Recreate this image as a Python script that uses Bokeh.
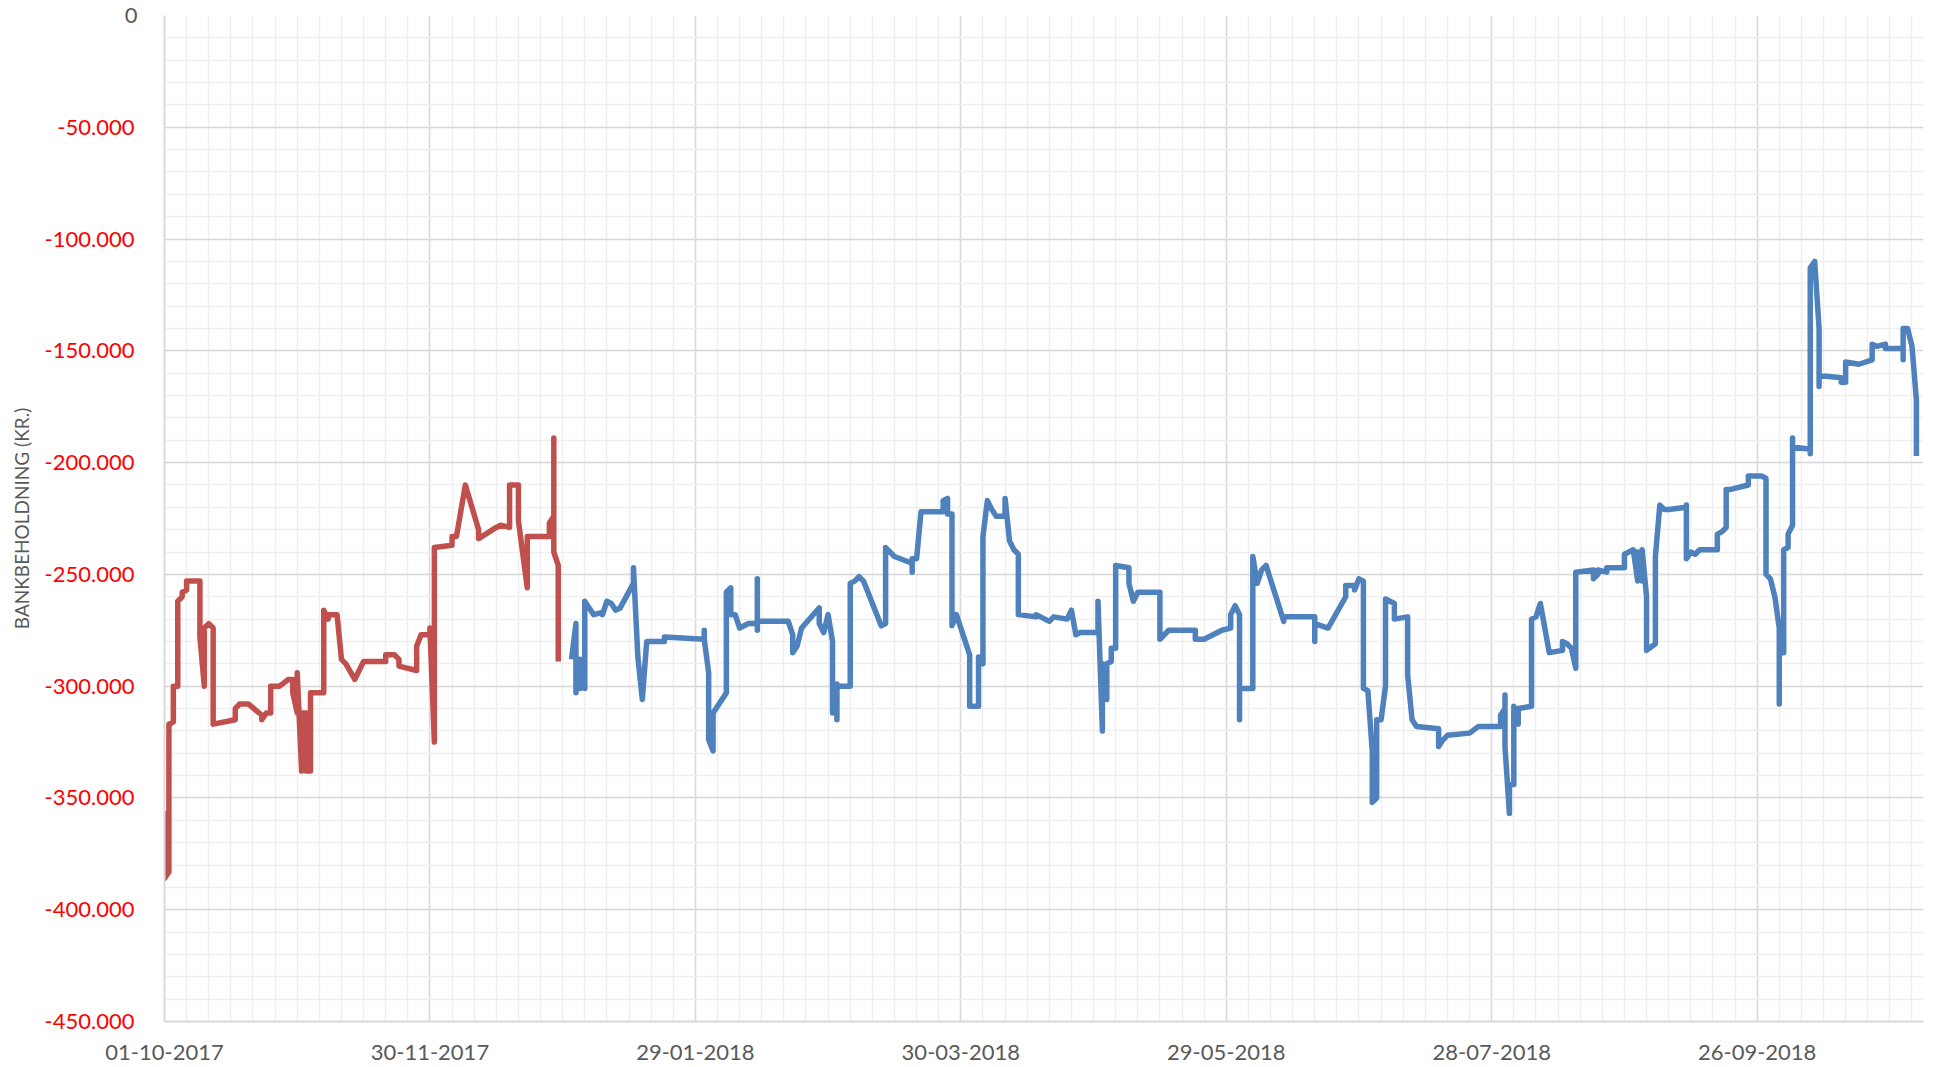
import pandas as pd
from bokeh.plotting import figure
from bokeh.models import FixedTicker, DatetimeTickFormatter, Range1d, LinearAxis
from bokeh.embed import file_html
from bokeh.resources import INLINE

# ---------------- data ----------------
start_date = "2017-10-01"

x_tick_labels = ["01-10-2017", "30-11-2017", "29-01-2018", "30-03-2018",
                 "29-05-2018", "28-07-2018", "26-09-2018"]
y_tick_values = [0, -50000, -100000, -150000, -200000, -250000,
                 -300000, -350000, -400000, -450000]
y_tick_labels = ["0", "-50.000", "-100.000", "-150.000", "-200.000", "-250.000",
                 "-300.000", "-350.000", "-400.000", "-450.000"]

# days after 01-10-2017, balance in thousand kr.
red_day = [0, 0, 1, 1, 2, 2, 3, 3, 4, 4,
           5, 5, 8, 8, 9, 9, 10, 11, 11, 16,
           16, 17, 19, 22, 22, 23, 24, 24, 26, 28,
           29, 29, 30, 30, 31, 31, 32, 32, 33, 33,
           33, 36, 36, 37, 37, 39, 40, 41, 43, 45,
           47, 50, 50, 52, 53, 53, 57, 57, 58, 60,
           60, 61, 61, 65, 65, 66, 68, 71, 71, 75,
           76, 78, 78, 80, 80, 82, 82, 87, 87, 88,
           88, 88, 89, 89]
red_val_k = [-356, -386, -383, -317, -316, -300, -300, -262, -260, -258,
             -257, -253, -253, -278, -300, -274, -272, -274, -317, -315,
             -310, -308, -308, -313, -315, -312, -312, -300, -300, -297,
             -297, -303, -312, -294, -338, -312, -312, -338, -338, -317,
             -303, -303, -266, -270, -268, -268, -288, -290, -297, -289,
             -289, -289, -286, -286, -288, -291, -293, -282, -277, -277,
             -274, -325, -238, -237, -233, -233, -210, -230, -234, -229,
             -228, -229, -210, -210, -226, -256, -233, -233, -227, -224,
             -189, -240, -246, -289]

blue_day = [92, 93, 93, 94, 94, 95, 95, 95, 96, 97,
            99, 99, 100, 101, 102, 103, 106, 106, 107, 108,
            109, 113, 113, 122, 122, 122, 123, 123, 124, 124,
            127, 127, 128, 128, 129, 130, 132, 134, 134, 134,
            134, 141, 142, 142, 143, 144, 148, 148, 149, 150,
            151, 151, 152, 152, 152, 155, 155, 156, 157, 158,
            162, 163, 163, 165, 169, 169, 169, 170, 171, 176,
            176, 177, 177, 178, 178, 179, 182, 182, 184, 184,
            185, 185, 186, 187, 188, 190, 190, 191, 192, 193,
            193, 197, 197, 200, 201, 204, 205, 206, 207, 211,
            211, 212, 212, 213, 213, 214, 214, 215, 215, 218,
            218, 219, 220, 225, 225, 227, 233, 233, 235, 239,
            241, 241, 242, 243, 243, 243, 246, 246, 247, 248,
            249, 253, 253, 260, 260, 260, 263, 267, 267, 269,
            269, 270, 271, 271, 272, 273, 273, 274, 274, 275,
            276, 276, 278, 278, 281, 281, 282, 283, 288, 288,
            289, 290, 295, 297, 302, 302, 303, 303, 303, 304,
            304, 305, 305, 306, 306, 309, 309, 310, 311, 313,
            316, 316, 317, 318, 319, 319, 323, 323, 324, 324,
            326, 326, 330, 330, 332, 333, 333, 334, 334, 335,
            335, 337, 337, 338, 339, 340, 344, 344, 344, 345,
            346, 347, 351, 351, 352, 353, 353, 354, 358, 358,
            359, 361, 362, 362, 363, 364, 365, 365, 365, 366,
            366, 367, 367, 368, 368, 368, 372, 372, 372, 373,
            374, 374, 374, 379, 379, 380, 380, 383, 386, 386,
            387, 389, 389, 393, 393, 393, 394, 395, 396, 396]
blue_val_k = [-288, -272, -303, -288, -301, -288, -301, -262, -265, -268,
              -267, -268, -262, -263, -266, -265, -254, -247, -287, -306,
              -280, -280, -278, -279, -275, -279, -294, -324, -329, -312,
              -303, -258, -256, -268, -268, -274, -272, -272, -252, -275,
              -271, -271, -277, -285, -282, -274, -265, -272, -276, -268,
              -280, -312, -299, -315, -300, -300, -254, -253, -251, -253,
              -273, -272, -238, -242, -245, -249, -243, -243, -222, -222,
              -217, -216, -223, -223, -273, -268, -286, -309, -309, -287,
              -290, -233, -217, -221, -224, -224, -216, -235, -239, -241,
              -268, -269, -268, -271, -269, -270, -266, -277, -276, -276,
              -262, -320, -290, -306, -290, -289, -283, -283, -246, -247,
              -254, -262, -258, -258, -279, -275, -275, -279, -279, -275,
              -274, -268, -264, -268, -315, -301, -301, -242, -254, -248,
              -246, -271, -269, -269, -280, -272, -274, -260, -255, -255,
              -257, -252, -253, -301, -302, -329, -352, -350, -315, -315,
              -300, -261, -263, -270, -269, -295, -315, -318, -319, -327,
              -324, -322, -321, -318, -318, -313, -310, -304, -327, -357,
              -344, -344, -309, -317, -310, -309, -270, -269, -263, -285,
              -284, -280, -281, -283, -292, -249, -248, -252, -250, -248,
              -249, -247, -247, -241, -239, -253, -240, -253, -239, -260,
              -284, -281, -242, -219, -221, -221, -220, -219, -243, -240,
              -241, -239, -239, -232, -231, -229, -212, -212, -210, -206,
              -206, -206, -207, -250, -252, -260, -274, -308, -285, -285,
              -239, -238, -232, -228, -189, -193, -194, -196, -113, -110,
              -140, -166, -161, -162, -164, -164, -155, -156, -154, -147,
              -148, -147, -149, -149, -154, -140, -140, -148, -172, -197]

assert len(red_day) == len(red_val_k)
assert len(blue_day) == len(blue_val_k)

# ---------------- build ----------------
t0 = pd.Timestamp(start_date)
red_x = t0 + pd.to_timedelta(red_day, unit="D")
blue_x = t0 + pd.to_timedelta(blue_day, unit="D")
red_y = [v * 1000 for v in red_val_k]
blue_y = [v * 1000 for v in blue_val_k]

def ms(ts):
    return ts.value / 1e6

x_start = t0
x_end = t0 + pd.Timedelta(days=397.6)

FONT = "Lato"
GRAY = "#595959"
LBL_SIZE = "22px"

p = figure(width=1930, height=1067, x_axis_type="datetime",
           x_range=Range1d(ms(x_start), ms(x_end)),
           y_range=Range1d(-450000, 0),
           output_backend="svg", toolbar_location=None,
           min_border_left=164, min_border_right=7,
           min_border_top=15, min_border_bottom=46)
p.outline_line_color = None
p.background_fill_color = "white"

# x axis
major_x = [ms(pd.to_datetime(s, format="%d-%m-%Y")) for s in x_tick_labels]
minor_x = [ms(t0 + pd.Timedelta(days=d)) for d in range(0, 400, 5)]
p.xaxis.ticker = FixedTicker(ticks=major_x, minor_ticks=minor_x)
fmt = "%d-%m-%Y"
p.xaxis.formatter = DatetimeTickFormatter(
    milliseconds=fmt, seconds=fmt, minsec=fmt, minutes=fmt, hourmin=fmt,
    hours=fmt, days=fmt, months=fmt, years=fmt)
xa = p.xaxis[0]
xa.major_tick_line_color = None
xa.minor_tick_line_color = None
xa.major_tick_out = 0
xa.major_tick_in = 0
xa.axis_line_color = "#D9D9D9"
xa.axis_line_width = 2
xa.major_label_text_font = FONT
xa.major_label_text_font_size = LBL_SIZE
xa.major_label_text_color = GRAY
xa.major_label_standoff = 19

# y axes: inner one carries the grey "0", outer one the red negative values
minor_y = list(range(-450000, 1, 10000))
ya = p.yaxis[0]
ya.ticker = FixedTicker(ticks=[y_tick_values[0]], minor_ticks=[])
ya.major_label_overrides = {y_tick_values[0]: y_tick_labels[0]}
ya.major_label_text_color = GRAY

yb = LinearAxis(ticker=FixedTicker(ticks=y_tick_values[1:], minor_ticks=[]),
                major_label_overrides={v: lab for v, lab in
                                       zip(y_tick_values[1:], y_tick_labels[1:])})
yb.major_label_text_color = "#FF0000"
p.add_layout(yb, "left")

for ax in (ya, yb):
    ax.major_tick_line_color = None
    ax.minor_tick_line_color = None
    ax.major_tick_out = 0
    ax.major_tick_in = 0
    ax.major_label_text_font = FONT
    ax.major_label_text_font_size = LBL_SIZE
ya.axis_line_color = "#D9D9D9"
ya.axis_line_width = 2
yb.axis_line_color = None
ya.major_label_standoff = 27
yb.major_label_standoff = -13

yb.axis_label = "BANKBEHOLDNING (KR.)"
yb.axis_label_text_font = FONT
yb.axis_label_text_font_style = "normal"
yb.axis_label_text_font_size = "19px"
yb.axis_label_text_color = GRAY
yb.axis_label_standoff = 9

# grids
p.xgrid[0].ticker = FixedTicker(ticks=major_x, minor_ticks=minor_x)
p.ygrid[0].ticker = FixedTicker(ticks=y_tick_values, minor_ticks=minor_y)
for g in (p.xgrid[0], p.ygrid[0]):
    g.grid_line_color = "#D9D9D9"
    g.grid_line_width = 1.5
    g.minor_grid_line_color = "#EFEFEF"
    g.minor_grid_line_width = 1.5

p.line(red_x, red_y, line_color="#C0504D", line_width=5.5, line_join="round")
p.line(blue_x, blue_y, line_color="#4F81BD", line_width=5.5, line_join="round")

open("out.html", "w").write(file_html(p, INLINE))
